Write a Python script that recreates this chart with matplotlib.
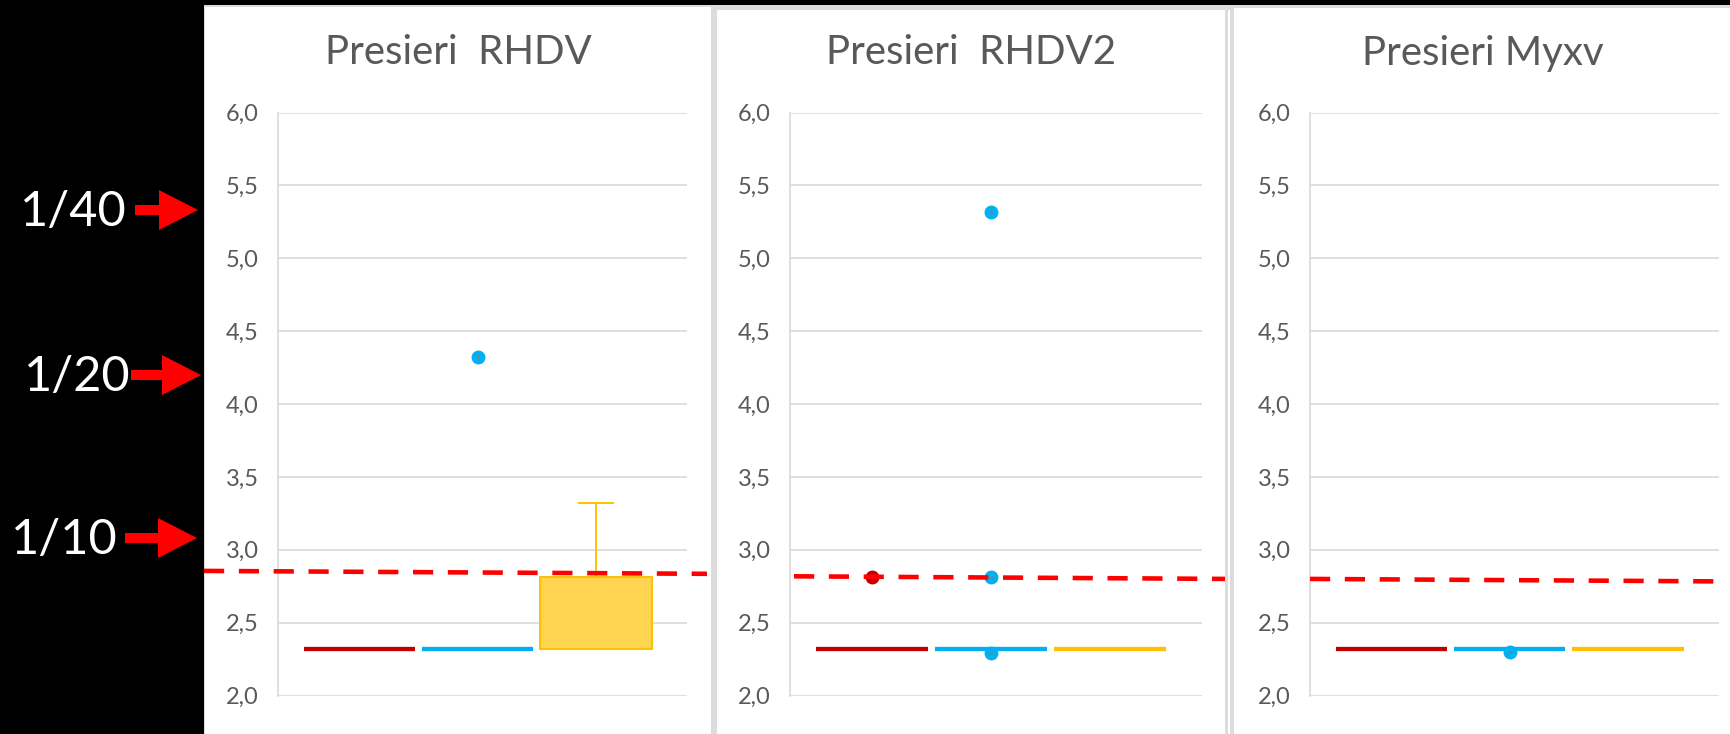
import matplotlib
matplotlib.use("Agg")
import matplotlib.pyplot as plt
import matplotlib.transforms as mtransforms
from matplotlib.patches import Rectangle, FancyArrow

# ---------------- data ----------------
titles = ["Presieri  RHDV", "Presieri  RHDV2", "Presieri Myxv"]
series_colors = ["#C00000", "#00B0F0", "#FFC000"]
box_fill = ["#C00000", "#00B0F0", "#FFD451"]

# (whislo, q1, med, q3, whishi) per series, one list per panel
rhdv_boxes = [(2.32, 2.32, 2.32, 2.32, 2.32),
              (2.32, 2.32, 2.32, 2.32, 2.32),
              (2.32, 2.32, 2.32, 2.81, 3.32)]
rhdv2_boxes = [(2.32, 2.32, 2.32, 2.32, 2.32),
               (2.32, 2.32, 2.32, 2.32, 2.32),
               (2.32, 2.32, 2.32, 2.32, 2.32)]
myxv_boxes = [(2.32, 2.32, 2.32, 2.32, 2.32),
              (2.32, 2.32, 2.32, 2.32, 2.32),
              (2.32, 2.32, 2.32, 2.32, 2.32)]

rhdv_points = [[], [4.32], []]
rhdv2_points = [[2.81], [5.32, 2.81, 2.29], []]
myxv_points = [[], [2.30], []]

# cut-off (dashed) line: value at start and end of each panel
cutoff_values = [(2.855, 2.835), (2.818, 2.800), (2.800, 2.783)]

yticks = [2.0, 2.5, 3.0, 3.5, 4.0, 4.5, 5.0, 5.5, 6.0]
titre_labels = ["1/40", "1/20", "1/10"]

panels_boxes = [rhdv_boxes, rhdv2_boxes, myxv_boxes]
panels_points = [rhdv_points, rhdv2_points, myxv_points]

# ---------------- layout (pixels) ----------------
W, H = 1731, 734
FONT = ["Lato", "DejaVu Sans"]
GRID = "#D9D9D9"
TXT = "#595959"

fig = plt.figure(figsize=(W / 100, H / 100), dpi=100, facecolor="black")

bg = fig.add_axes([0, 0, 1, 1], zorder=-5)
bg.set_xlim(0, W)
bg.set_ylim(H, 0)
bg.axis("off")

# panel backgrounds
bg.add_patch(Rectangle((204, 5), W - 204, H, facecolor="#DCDCDC", edgecolor="none"))
panel_x = [(205, 711), (717, 1225), (1234, W)]
panel_top = [7, 10, 8]
for (x0, x1), t in zip(panel_x, panel_top):
    bg.add_patch(Rectangle((x0, t), x1 - x0, H - t + 5, facecolor="white", edgecolor="none"))
bg.add_patch(Rectangle((1228, 10), 2, H, facecolor="white", edgecolor="none"))

# titre annotations
titre_y = [212, 377, 540]
titre_x = [20, 24, 11]
arrow_x = [(135, 198), (131, 201), (125, 197)]
for lab, y, x, (a0, a1) in zip(titre_labels, titre_y, titre_x, arrow_x):
    bg.text(x, y, lab, color="white", fontsize=35, family=FONT,
            ha="left", va="center")
    bg.add_patch(FancyArrow(a0, y - 2, a1 - a0, 0, width=10, head_width=40,
                            head_length=39, length_includes_head=True,
                            color="#FF0000", linewidth=0))

# plot axes
axes_px = [(278, 687), (790, 1202), (1310, 1719)]
top_px, bot_px = 112.6, 695.5
dash_px = [(204, 707), (794, 1225), (1310, 1718)]
XLIM = (-0.69, 2.77)

for i in range(3):
    x0, x1 = axes_px[i]
    ax = fig.add_axes([x0 / W, 1 - bot_px / H, (x1 - x0) / W, (bot_px - top_px) / H])
    ax.set_facecolor("none")

    for j, (stats, pts) in enumerate(zip(panels_boxes[i], panels_points[i])):
        wl, q1, med, q3, wh = stats
        col = series_colors[j]
        collapsed = q1 == q3
        st = [dict(whislo=wl, q1=q1, med=med, q3=q3, whishi=wh, fliers=[])]
        ax.bxp(st, positions=[j], widths=0.94, patch_artist=True,
               showfliers=False, capwidths=0.28, manage_ticks=False,
               boxprops=dict(facecolor=box_fill[j], edgecolor=col, linewidth=1.4),
               medianprops=dict(color=col, linewidth=3.1 if collapsed else 1.4,
                                solid_capstyle="butt"),
               whiskerprops=dict(color=col, linewidth=1.4),
               capprops=dict(color=col, linewidth=1.4))
        if pts:
            ax.plot([j] * len(pts), pts, linestyle="none", marker="o",
                    markersize=9, markerfacecolor=col, markeredgecolor=col, zorder=4)
            ax.plot([j] * len(pts), pts, linestyle="none", marker="o",
                    markersize=2, markerfacecolor="#7F7F7F",
                    markeredgecolor="none", zorder=5)

    ax.set_xlim(*XLIM)
    ax.set_ylim(2.0, 6.0)
    ax.set_yticks(yticks)
    ax.set_yticklabels([f"{v:.1f}".replace(".", ",") for v in yticks],
                       color=TXT, fontsize=17, family=FONT)
    ax.tick_params(axis="y", length=0, pad=14)
    ax.set_xticks([])
    ax.grid(axis="y", color=GRID, linewidth=1.2)
    ax.set_axisbelow(True)
    for s in ["top", "right", "bottom"]:
        ax.spines[s].set_visible(False)
    ax.spines["left"].set_color(GRID)
    ax.spines["left"].set_linewidth(1.2)

    # dashed cut-off line (extends over the panel)
    d0, d1 = dash_px[i]
    a0 = (d0 - x0) / (x1 - x0)
    a1 = (d1 - x0) / (x1 - x0)
    trans = mtransforms.blended_transform_factory(ax.transAxes, ax.transData)
    ax.plot([a0, a1], list(cutoff_values[i]), transform=trans, color="#FF0000",
            linewidth=3.3, dashes=(4.4, 3.2), solid_capstyle="butt",
            dash_capstyle="butt", clip_on=False, zorder=6)

    # title centred on panel
    px0, px1 = panel_x[i]
    fig.text(((px0 + px1) / 2) / W, 1 - 53 / H, titles[i], color=TXT,
             fontsize=29, family=FONT, ha="center", va="center")

fig.savefig("out.png", dpi=100, facecolor=fig.get_facecolor())
